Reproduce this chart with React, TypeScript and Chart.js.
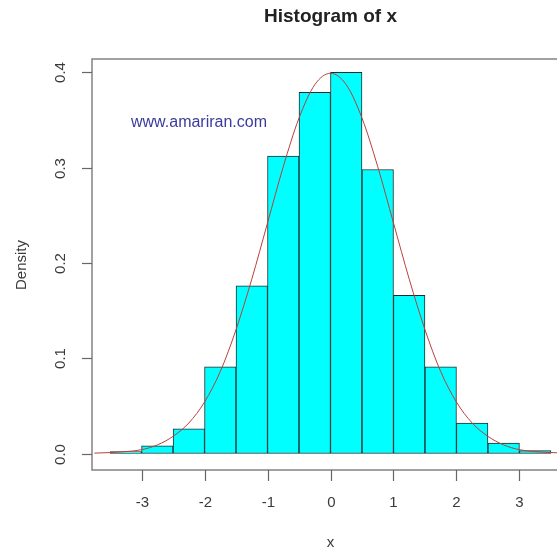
import React, { useEffect, useRef } from "react";
import { Chart, registerables } from "chart.js";

Chart.register(...registerables);

// Histogram bins (centers) and densities
const binCenters = [-3.25, -2.75, -2.25, -1.75, -1.25, -0.75, -0.25, 0.25, 0.75, 1.25, 1.75, 2.25, 2.75, 3.25];
const densities = [0.002, 0.008, 0.026, 0.091, 0.176, 0.312, 0.379, 0.4, 0.298, 0.166, 0.091, 0.032, 0.011, 0.003];

// Red density curve, read point by point
const curveX = [-3.75, -3.5, -3.25, -3, -2.75, -2.5, -2.25, -2, -1.75, -1.5, -1.25, -1, -0.75, -0.5, -0.25, 0, 0.25, 0.5, 0.75, 1, 1.25, 1.5, 1.75, 2, 2.25, 2.5, 2.75, 3, 3.25, 3.5, 3.75];
const curveY = [0.0004, 0.001, 0.002, 0.004, 0.009, 0.018, 0.032, 0.054, 0.086, 0.13, 0.183, 0.242, 0.301, 0.352, 0.387, 0.399, 0.387, 0.352, 0.301, 0.242, 0.183, 0.13, 0.086, 0.054, 0.032, 0.018, 0.009, 0.004, 0.002, 0.001, 0.0004];

const xTicks = [-3, -2, -1, 0, 1, 2, 3];
const yTicks = [0, 0.1, 0.2, 0.3, 0.4];
const yTickLabels = ["0.0", "0.1", "0.2", "0.3", "0.4"];

const titleText = "Histogram of x";
const xTitle = "x";
const yTitle = "Density";
const watermark = "www.amariran.com";

const FONT = '"Liberation Sans", Arial, Helvetica, sans-serif';

const rDecor = {
  id: "rDecor",
  afterDraw(chart: any) {
    const { ctx, chartArea, scales } = chart;
    const xs = scales.x;
    const ys = scales.y;
    ctx.save();
    // box
    ctx.strokeStyle = "#8a8a8a";
    ctx.lineWidth = 1.6;
    ctx.strokeRect(chartArea.left, chartArea.top, chartArea.right - chartArea.left, chartArea.bottom - chartArea.top);

    // x ticks
    ctx.strokeStyle = "#666";
    ctx.lineWidth = 1.2;
    ctx.fillStyle = "#3a3a3a";
    ctx.font = `15px ${FONT}`;
    ctx.textAlign = "center";
    ctx.textBaseline = "middle";
    for (const t of xTicks) {
      const px = Math.round(xs.getPixelForValue(t)) + 0.5;
      ctx.beginPath();
      ctx.moveTo(px, chartArea.bottom);
      ctx.lineTo(px, chartArea.bottom + 11);
      ctx.stroke();
      ctx.fillText(String(t), px, 503);
    }
    // y ticks
    yTicks.forEach((t, i) => {
      const py = Math.round(ys.getPixelForValue(t)) + 0.5;
      ctx.beginPath();
      ctx.moveTo(chartArea.left, py);
      ctx.lineTo(chartArea.left - 10, py);
      ctx.stroke();
      ctx.save();
      ctx.translate(61, py);
      ctx.rotate(-Math.PI / 2);
      ctx.fillText(yTickLabels[i], 0, 0);
      ctx.restore();
    });

    // axis titles
    const cx = (chartArea.left + chartArea.right) / 2;
    ctx.fillText(xTitle, cx, 543);
    ctx.save();
    ctx.translate(22, 265);
    ctx.rotate(-Math.PI / 2);
    ctx.font = `15px ${FONT}`;
    ctx.fillText(yTitle, 0, 0);
    ctx.restore();

    // title
    ctx.font = `bold 19px ${FONT}`;
    ctx.fillStyle = "#222";
    ctx.fillText(titleText, cx, 17);

    // watermark
    ctx.font = `16px ${FONT}`;
    ctx.fillStyle = "#3b3b9e";
    ctx.textAlign = "left";
    ctx.fillText(watermark, 131, 123);
    ctx.restore();
  },
};

export default function App() {
  const ref = useRef<HTMLCanvasElement | null>(null);
  useEffect(() => {
    if (!ref.current) return;
    const chart = new Chart(ref.current, {
      type: "bar",
      data: {
        datasets: [
          {
            type: "line",
            data: curveX.map((x, i) => ({ x, y: curveY[i] })),
            borderColor: "#b8403c",
            borderWidth: 1,
            pointRadius: 0,
            cubicInterpolationMode: "monotone",
            order: 0,
          } as any,
          {
            type: "bar",
            data: binCenters.map((x, i) => ({ x, y: densities[i] })),
            backgroundColor: "#00ffff",
            borderColor: "#1c2c2c",
            borderWidth: 1,
            borderSkipped: false,
            barPercentage: 1,
            categoryPercentage: 1,
            order: 1,
          } as any,
        ],
      },
      options: {
        responsive: false,
        animation: false,
        devicePixelRatio: 1,
        layout: { padding: { left: 92, top: 59, right: 11, bottom: 82 } },
        plugins: { legend: { display: false }, tooltip: { enabled: false }, title: { display: false } },
        scales: {
          x: { type: "linear", min: -3.787, max: 3.787, display: false, offset: false },
          y: { type: "linear", min: -0.0173, max: 0.414, display: false },
        },
      },
      plugins: [rDecor],
    });
    return () => chart.destroy();
  }, []);
  return (
    <div style={{ position: "fixed", left: 0, top: 0, width: 580, height: 552, background: "#fff" }}>
      <canvas ref={ref} width={580} height={552} />
    </div>
  );
}
